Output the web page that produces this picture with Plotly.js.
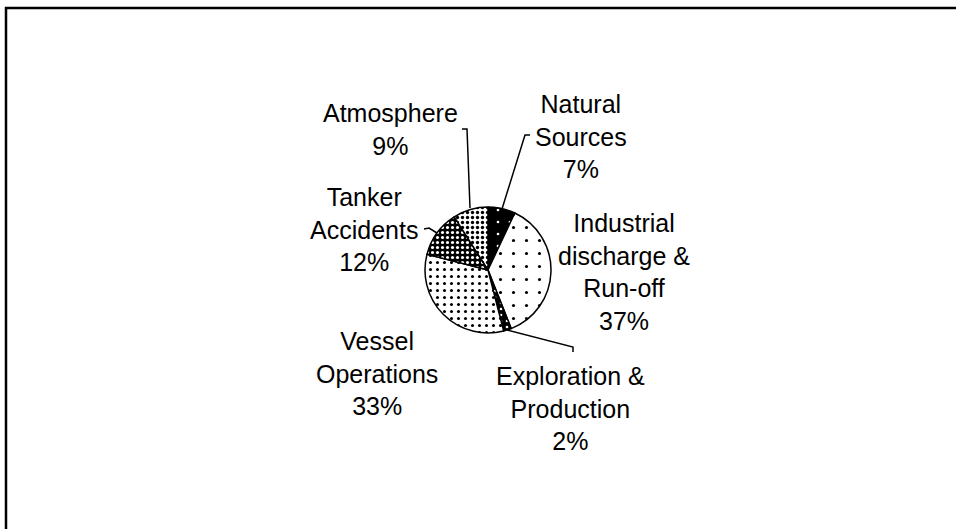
<!DOCTYPE html>
<html>
<head>
<meta charset="utf-8">
<script src="https://cdn.plot.ly/plotly-3.0.1.min.js"></script>
<style>
  html, body { margin: 0; padding: 0; background: #ffffff; }
  #chart { width: 956px; height: 529px; }
</style>
</head>
<body>
<div id="chart"></div>
<script>
// Data
const categories = ["Natural<br>Sources", "Industrial<br>discharge &<br>Run-off", "Exploration &<br>Production", "Vessel<br>Operations", "Tanker<br>Accidents", "Atmosphere"];
const shares = [7, 37, 2, 33, 12, 9];

// Styles
const patternBg = ["#000000", "#ffffff", "#000000", "#ffffff", "#000000", "#ffffff"];
const patternFg = ["#ffffff", "#000000", "#ffffff", "#000000", "#ffffff", "#000000"];
const patternSize = [12, 13, 6, 7, 5, 5];
const patternSolidity = [0.04, 0.045, 0.15, 0.15, 0.3, 0.35];

// Label placement (pixel centres of each label block)
const labelPos = [[581, 136], [624, 272], [570, 408], [377, 373], [364, 230], [390, 129]];

const W = 956, H = 529;
const px = x => x / W;
const py = y => 1 - y / H;

const cx = 488, cy = 270, r = 63;

const trace = {
  type: "pie",
  labels: categories,
  values: shares,
  sort: false,
  direction: "clockwise",
  rotation: 0,
  textinfo: "none",
  hoverinfo: "label+percent",
  showlegend: false,
  domain: { x: [px(cx - r), px(cx + r)], y: [py(cy + r), py(cy - r)] },
  marker: {
    colors: patternBg,
    line: { color: "#000000", width: 1.5 },
    pattern: {
      shape: ".",
      bgcolor: patternBg,
      fgcolor: patternFg,
      size: patternSize,
      solidity: patternSolidity,
      fillmode: "replace"
    }
  }
};

const annotations = categories.map((c, i) => ({
  xref: "paper", yref: "paper",
  x: px(labelPos[i][0]), y: py(labelPos[i][1]),
  xanchor: "center", yanchor: "middle",
  text: c + "<br>" + shares[i] + "%",
  showarrow: false,
  align: "center",
  font: { family: "Liberation Sans, Arial, sans-serif", size: 25, color: "#000000" }
}));

const lineStyle = { color: "#000000", width: 1.5 };
const shapes = [
  // frame (top and left edges visible)
  { type: "line", xref: "paper", yref: "paper", x0: px(5), x1: 1, y0: py(8), y1: py(8), line: { color: "#000000", width: 2.5 } },
  { type: "line", xref: "paper", yref: "paper", x0: px(6), x1: px(6), y0: py(7), y1: 0, line: { color: "#000000", width: 2.5 } },
  // leader lines
  { type: "path", xref: "paper", yref: "paper", path: `M ${px(462)} ${py(129)} L ${px(467)} ${py(129)} L ${px(470)} ${py(208)}`, line: lineStyle },
  { type: "path", xref: "paper", yref: "paper", path: `M ${px(530)} ${py(135)} L ${px(525)} ${py(135)} L ${px(502)} ${py(209)}`, line: lineStyle },
  { type: "path", xref: "paper", yref: "paper", path: `M ${px(424)} ${py(229)} L ${px(429)} ${py(228)} L ${px(437)} ${py(233)}`, line: lineStyle },
  { type: "path", xref: "paper", yref: "paper", path: `M ${px(507)} ${py(330)} L ${px(573)} ${py(347)} L ${px(573)} ${py(352)}`, line: lineStyle }
];

const layout = {
  width: W, height: H,
  margin: { l: 0, r: 0, t: 0, b: 0 },
  paper_bgcolor: "#ffffff",
  plot_bgcolor: "#ffffff",
  showlegend: false,
  annotations: annotations,
  shapes: shapes
};

Plotly.newPlot("chart", [trace], layout, { displayModeBar: false, staticPlot: true });
</script>
</body>
</html>
